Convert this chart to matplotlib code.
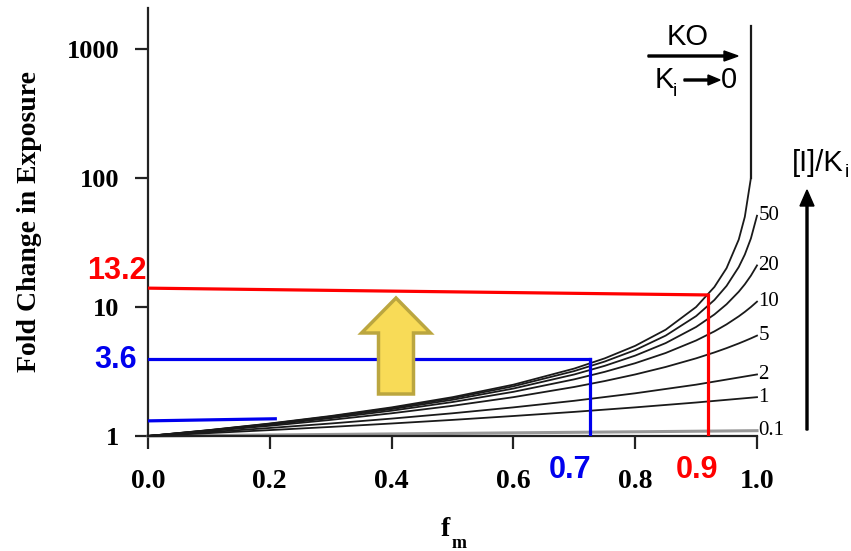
import matplotlib
matplotlib.use("Agg")
import matplotlib.pyplot as plt
from matplotlib.patches import FancyArrow
import numpy as np

W, H = 851, 551

# fraction metabolised by the inhibited pathway (x) and fold change (y)
fm_hi = [0, 0.1, 0.2, 0.3, 0.4, 0.5, 0.6, 0.7, 0.75, 0.8, 0.85, 0.9, 0.93, 0.95, 0.97, 0.98, 0.99, 1.0]
fold_50 = [1, 1.109, 1.244, 1.417, 1.645, 1.962, 2.429, 3.188, 3.778, 4.636, 6.0, 8.5, 11.33, 14.57, 20.4, 25.5, 34.0, 51.0]
fold_20 = [1, 1.105, 1.235, 1.4, 1.615, 1.909, 2.333, 3.0, 3.5, 4.2, 5.25, 7.0, 8.75, 10.5, 13.13, 15.0, 17.5, 21.0]
fold_10 = [1, 1.1, 1.222, 1.375, 1.571, 1.833, 2.2, 2.75, 3.143, 3.667, 4.4, 5.5, 6.471, 7.333, 8.462, 9.167, 10.0, 11.0]
fold_5 = [1, 1.091, 1.2, 1.333, 1.5, 1.714, 2.0, 2.4, 2.667, 3.0, 3.429, 4.0, 4.444, 4.8, 5.217, 5.455, 5.714, 6.0]

fm_lo = [0, 0.1, 0.2, 0.3, 0.4, 0.5, 0.6, 0.7, 0.8, 0.9, 1.0]
fold_2 = [1, 1.071, 1.154, 1.25, 1.364, 1.5, 1.667, 1.875, 2.143, 2.5, 3.0]
fold_1 = [1, 1.053, 1.111, 1.176, 1.25, 1.333, 1.429, 1.538, 1.667, 1.818, 2.0]
fold_01 = [1, 1.009, 1.019, 1.028, 1.038, 1.047, 1.058, 1.068, 1.078, 1.089, 1.1]

fm_ko = [0, 0.1, 0.2, 0.3, 0.4, 0.5, 0.6, 0.7, 0.75, 0.8, 0.85, 0.9, 0.93, 0.95, 0.97, 0.98, 0.99]
fold_ko = [1, 1.111, 1.25, 1.429, 1.667, 2.0, 2.5, 3.333, 4.0, 5.0, 6.667, 10.0, 14.29, 20.0, 33.3, 50.0, 100.0]
ko_top = 1500

ratio_labels = ["50", "20", "10", "5", "2", "1", "0.1"]

# highlighted read-outs
red_fm, red_y0, red_y1 = 0.919, 14.0, 12.4
blue_fm, blue_y = 0.725, 3.95
blue_short_fm, blue_short_y0, blue_short_y1 = 0.209, 1.31, 1.36

ytick_vals = [1, 10, 100, 1000]
ytick_text = ["1", "10", "100", "1000"]
xtick_vals = [0.0, 0.2, 0.4, 0.6, 0.8, 1.0]
xtick_text = ["0.0", "0.2", "0.4", "0.6", "0.8", "1.0"]


def px(x, y):
    return x / W, 1 - y / H


fig = plt.figure(figsize=(W / 100, H / 100), dpi=100)
left, bottom = px(148, 436)
right, top = px(757, 8)
ax = fig.add_axes([left, bottom, right - left, top - bottom])
ax.set_yscale("log")
ax.set_xlim(0, 1.0)
ax.set_ylim(1, 10 ** ((436 - 8) / 129))

curves = [(fm_hi, fold_50), (fm_hi, fold_20), (fm_hi, fold_10), (fm_hi, fold_5),
          (fm_lo, fold_2), (fm_lo, fold_1)]
for xs, ys in curves:
    ax.plot(xs, ys, color="#1a1a1a", lw=1.3, clip_on=False, zorder=3)
ax.plot(fm_lo, fold_01, color="#999999", lw=2.2, clip_on=False, zorder=2)
ax.plot(fm_ko, fold_ko, color="#1a1a1a", lw=1.3, clip_on=False, zorder=3)
ax.plot([fm_ko[-1], fm_ko[-1]], [fold_ko[-1], ko_top], color="#1a1a1a", lw=1.6, zorder=3)

ends = [fold_50[-1], fold_20[-1], fold_10[-1], fold_5[-1], fold_2[-1], fold_1[-1], fold_01[-1]]
for lab, yv in zip(ratio_labels, ends):
    ax.annotate(lab, (1.0, yv), xytext=(1, 0), textcoords="offset points",
                family="Liberation Serif", fontsize=15, va="center", ha="left",
                annotation_clip=False)

# red and blue guide lines
ax.plot([0, red_fm], [red_y0, red_y1], color="red", lw=2.3, zorder=4)
ax.plot([red_fm, red_fm], [red_y1, 1], color="red", lw=2.3, zorder=4)
ax.plot([0, blue_fm], [blue_y, blue_y], color="#0000ee", lw=2.3, zorder=4)
ax.plot([blue_fm, blue_fm], [blue_y, 1], color="#0000ee", lw=2.3, zorder=4)
ax.plot([0, blue_short_fm], [blue_short_y0, blue_short_y1], color="#0000ee", lw=2.3, zorder=4)

ax.spines["top"].set_visible(False)
ax.spines["right"].set_visible(False)
for s in ("left", "bottom"):
    ax.spines[s].set_linewidth(1.6)
    ax.spines[s].set_color("#222222")

ax.set_yticks(ytick_vals)
ax.set_yticklabels(ytick_text)
ax.yaxis.set_minor_locator(matplotlib.ticker.NullLocator())
ax.set_xticks(xtick_vals)
ax.set_xticklabels(xtick_text)
ax.tick_params(axis="both", direction="out", length=9.5, width=1.6, color="#222222")
ax.tick_params(axis="y", pad=11)
ax.tick_params(axis="x", pad=14)
for t in ax.get_yticklabels():
    t.set_fontfamily("Liberation Serif")
    t.set_fontweight("bold")
    t.set_fontsize(19)
for t in ax.get_xticklabels():
    t.set_fontfamily("Liberation Serif")
    t.set_fontweight("bold")
    t.set_fontsize(20)

# axis labels
fig.text(*px(30, 222), "Fold Change in Exposure", rotation=90, ha="center", va="center",
         family="Liberation Serif", fontweight="bold", fontsize=20)
fig.text(*px(445, 530), "f", ha="center", va="center",
         family="Liberation Serif", fontweight="bold", fontsize=20)
fig.text(*px(459, 543), "m", ha="center", va="center",
         family="Liberation Serif", fontweight="bold", fontsize=13)

# value call-outs
sans = "Liberation Sans"
fig.text(*px(147, 271), "13.2", color="red", ha="right", va="center", family=sans,
         fontweight="bold", fontsize=22)
fig.text(*px(137, 360), "3.6", color="#0000ee", ha="right", va="center", family=sans,
         fontweight="bold", fontsize=22)
fig.text(*px(570, 470), "0.7", color="#0000ee", ha="center", va="center", family=sans,
         fontweight="bold", fontsize=22)
fig.text(*px(697, 470), "0.9", color="red", ha="center", va="center", family=sans,
         fontweight="bold", fontsize=22)

# KO / Ki -> 0 annotation
fig.text(*px(688, 37), "KO", ha="center", va="center", family=sans, fontsize=21)
fig.add_artist(FancyArrow(*px(648, 56), 90 / W, 0, width=2 / H, head_width=10 / H,
                          head_length=14 / W, length_includes_head=True,
                          transform=fig.transFigure, color="black"))
fig.text(*px(664, 80), "K", ha="center", va="center", family=sans, fontsize=21)
fig.text(*px(675, 91), "i", ha="center", va="center", family=sans, fontsize=14)
fig.add_artist(FancyArrow(*px(684, 80), 36 / W, 0, width=2 / H, head_width=10 / H,
                          head_length=12 / W, length_includes_head=True,
                          transform=fig.transFigure, color="black"))
fig.text(*px(729, 80), "0", ha="center", va="center", family=sans, fontsize=21)

# [I]/Ki arrow
fig.text(*px(792, 163), "[I]/K", ha="left", va="center", family=sans, fontsize=21)
fig.text(*px(845, 172), "i", ha="left", va="center", family=sans, fontsize=14)
fig.add_artist(FancyArrow(*px(807, 430), 0, 240 / H, width=2 / W, head_width=14 / W,
                          head_length=16 / H, length_includes_head=True,
                          transform=fig.transFigure, color="black"))

# yellow up arrow
fig.add_artist(FancyArrow(*px(396, 394), 0, 96 / H, width=35 / W, head_width=69 / W,
                          head_length=35 / H, length_includes_head=True,
                          transform=fig.transFigure, facecolor="#F8DB57",
                          edgecolor="#BBA63F", lw=2.5, zorder=5))

fig.savefig("out.png", dpi=100)
